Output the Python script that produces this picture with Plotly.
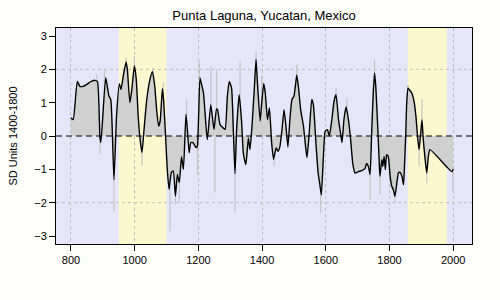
import plotly.graph_objects as go

# smoothed series (black line)
years = [800, 807, 820, 828, 838, 850, 860, 875, 883, 891, 894, 909, 919, 925, 935, 943, 952, 957, 964, 973,
         977, 985, 991, 999, 1005, 1011, 1017, 1023, 1029, 1038, 1048, 1056, 1063, 1069, 1075, 1080, 1087, 1091,
         1097, 1102, 1108, 1115, 1121, 1128, 1134, 1140, 1147, 1153, 1161, 1165, 1171, 1176, 1183, 1189, 1194,
         1197, 1205, 1210, 1216, 1228, 1239, 1249, 1257, 1260, 1268, 1278, 1284, 1291, 1297, 1304, 1310, 1315,
         1320, 1328, 1336, 1341, 1349, 1357, 1362, 1369, 1376, 1381, 1386, 1394, 1399, 1405, 1410, 1417, 1423,
         1430, 1436, 1444, 1450, 1456, 1463, 1469, 1475, 1481, 1488, 1494, 1500, 1505, 1509, 1515, 1521, 1530,
         1537, 1541, 1548, 1556, 1561, 1569, 1576, 1582, 1586, 1593, 1598, 1605, 1611, 1619, 1626, 1632, 1640,
         1647, 1651, 1657, 1664, 1671, 1678, 1685, 1692, 1702, 1713, 1723, 1728, 1734, 1739, 1744, 1749, 1753,
         1757, 1762, 1767, 1770, 1776, 1779, 1783, 1787, 1791, 1796, 1802, 1807, 1812, 1817, 1823, 1828, 1833,
         1839, 1844, 1847, 1851, 1854, 1858, 1862, 1870, 1877, 1883, 1889, 1893, 1898, 1902, 1906, 1912, 1917,
         1922, 1927, 1996, 2000]
values = [0.55, 0.49, 1.64, 1.49, 1.49, 1.55, 1.62, 1.67, 1.63, -0.06, -0.19, 1.75, 1.21, 1.09, -1.31, 0.59, 1.57,
          1.39, 1.79, 2.22, 2.0, 1.0, 1.39, 2.1, 1.7, 0.6, -0.1, -0.5, 0.15, 1.1, 1.7, 1.93, 1.5, 0.78, 0.3, 0.45,
          1.42, 1.05, 0.0, -0.95, -1.6, -1.1, -1.05, -1.8, -1.15, -1.4, -0.62, -1.0, 0.65, 0.25, -0.5, -0.2, -0.2,
          -0.3, -0.35, -0.3, 1.74, 1.55, 1.29, -0.11, 0.94, 0.19, 0.81, 0.8, 0.34, 0.24, 0.2, 1.19, 1.64, 1.45,
          0.09, -1.13, 0.19, 1.24, 0.39, -0.51, -0.86, -0.06, -0.41, 0.39, 1.49, 2.3, 1.49, 0.45, 1.0, 1.57, 1.29,
          0.49, 0.84, -0.21, -0.7, -0.36, -0.46, -0.31, 0.24, 0.79, 0.29, -0.33, 0.59, 1.1, 1.19, 1.54, 1.83, 1.39,
          0.79, 0.29, -0.36, -0.65, 0.09, 1.1, 0.94, -0.21, -1.11, -1.5, -1.77, -0.51, 0.14, 0.19, 0.0, 0.49, 1.05,
          1.24, 0.49, 0.04, -0.2, 0.49, 0.87, 0.49, -0.11, -0.85, -1.11, -1.07, -1.04, -0.98, -0.82, -0.92, -1.16,
          0.09, 1.3, 1.89, 1.49, 0.49, -0.61, -1.21, -0.71, -0.91, -0.61, -1.01, -0.56, -0.61, -1.21, -1.51, -1.61,
          -1.81, -1.41, -1.11, -1.09, -1.21, -1.46, -0.91, 0.04, 0.99, 1.44, 1.39, 1.29, 1.04, 0.59, -0.11, -0.41,
          0.09, 0.49, -0.11, -0.71, -1.11, -0.61, -0.41, -1.07, -0.99]

# raw series spikes (gray): year, base value, tip value
spike_years = [881, 891, 905, 916, 935, 973, 999, 1023, 1057, 1090, 1111, 1128, 1140, 1163, 1197, 1203, 1239,
               1252, 1257, 1315, 1331, 1381, 1399, 1438, 1509, 1584, 1632, 1666, 1739, 1753, 1770, 1817, 1858,
               1893, 1902, 1917, 1999]
spike_base = [1.65, -0.1, 1.4, 1.3, -1.3, 2.2, 2.1, -0.5, 1.9, 1.05, -1.5, -1.8, -1.4, 0.6, -0.3, 1.7, 0.94,
              0.2, 0.8, -1.13, 1.0, 2.3, 1.0, -0.7, 1.83, -1.7, 1.24, 0.85, -1.16, 1.89, -1.21, -1.81, 1.44,
              -0.41, 0.49, -1.11, -1.06]
spike_tip = [1.85, -0.55, 2.0, 1.45, -2.3, 2.35, 2.4, -0.9, 2.05, 1.6, -2.85, -2.05, -2.0, 1.1, -1.15, 2.24,
             2.09, -1.7, 2.0, -2.31, 2.24, 2.54, 1.79, -0.9, 2.14, -2.31, 1.44, 1.15, -1.91, 2.29, -1.76, -2.01,
             1.54, -0.91, 1.11, -1.41, -1.66]

warm_periods = [(950, 1100), (1857, 1980)]
x_ticks = [800, 1000, 1200, 1400, 1600, 1800, 2000]
y_ticks = [-3, -2, -1, 0, 1, 2, 3]

sx, sy = [], []
for yr, b, t in zip(spike_years, spike_base, spike_tip):
    sx += [yr, yr, None]
    sy += [b, t, None]

fig = go.Figure()
fig.add_trace(go.Scatter(x=sx, y=sy, mode="lines", line=dict(color="#c4c4c4", width=1.2),
                         hoverinfo="skip", showlegend=False))
fig.add_trace(go.Scatter(x=years, y=values, mode="lines", fill="tozeroy", fillcolor="#d0d0d0",
                         line=dict(color="black", width=1.4, shape="spline", smoothing=0.5),
                         showlegend=False))

grid_col = "#bcbcbc"
shapes = []
for a, b in warm_periods:
    shapes.append(dict(type="rect", xref="x", yref="paper", x0=a, x1=b, y0=0, y1=1,
                       fillcolor="#fbf8cf", line=dict(width=0), layer="below"))
for gy in [-2, 2]:
    shapes.append(dict(type="line", xref="paper", yref="y", x0=0, x1=1, y0=gy, y1=gy,
                       line=dict(color=grid_col, width=1, dash="3px,3px"), layer="between"))
shapes.append(dict(type="line", xref="paper", yref="y", x0=0, x1=1, y0=0, y1=0,
                   line=dict(color="black", width=1.2, dash="6px,4px"), layer="above"))

font = "Liberation Sans, Arial, sans-serif"
fig.update_layout(
    width=500, height=300,
    margin=dict(l=56, r=28, t=28, b=56),
    paper_bgcolor="#fdfdfa", plot_bgcolor="#e6e6fa",
    title=dict(text="Punta Laguna, Yucatan, Mexico", x=0.528, xanchor="center", y=0.95, yanchor="middle",
               font=dict(family=font, size=13, color="black")),
    shapes=shapes,
    font=dict(family=font, size=11, color="black"),
)
fig.update_xaxes(range=[753, 2059], tickvals=x_ticks, ticks="outside", ticklen=6, tickcolor="black",
                 showgrid=True, gridcolor=grid_col, griddash="3px,3px", gridwidth=1,
                 showline=True, linecolor="black", linewidth=1, mirror=True, zeroline=False,
                 tickfont=dict(family=font, size=11))
fig.update_yaxes(range=[-3.24, 3.24], tickvals=y_ticks, ticks="outside", ticklen=6, tickcolor="black",
                 showgrid=False, showline=True, linecolor="black", linewidth=1, mirror=True, zeroline=False,
                 title=dict(text="SD Units 1400-1800", font=dict(family=font, size=11), standoff=14),
                 tickfont=dict(family=font, size=11))

fig.write_html("out.html")
